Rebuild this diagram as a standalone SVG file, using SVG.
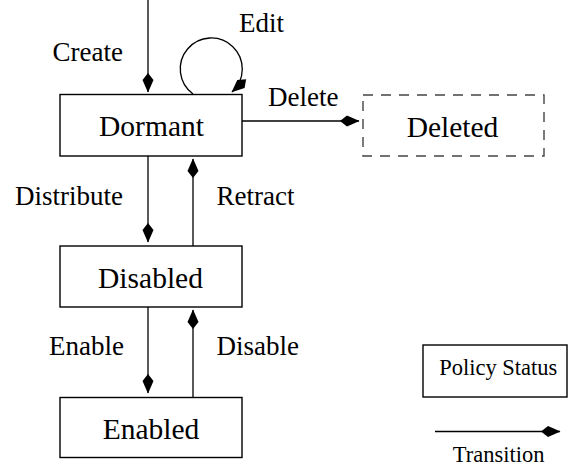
<svg xmlns="http://www.w3.org/2000/svg" width="568" height="465" viewBox="0 0 568 465">
<style>
  .box { fill: #fff; stroke: #000; stroke-width: 1.4; }
  .dashed { fill: #fff; stroke: #444; stroke-width: 1.4; stroke-dasharray: 10 8; }
  .node { font-family: "Liberation Serif", "Times New Roman", serif; font-size: 29.5px; fill: #000; text-anchor: middle; }
  .lbl { font-family: "Liberation Serif", "Times New Roman", serif; font-size: 27px; fill: #000; }
  .leg { font-family: "Liberation Serif", "Times New Roman", serif; font-size: 22.5px; fill: #000; text-anchor: middle; }
  .edge { fill: none; stroke: #000; stroke-width: 1.3; marker-end: url(#arr); }
</style>
<defs>
  <marker id="arr" markerUnits="userSpaceOnUse" markerWidth="22" markerHeight="14" viewBox="-1 -7 22 14" refX="19" refY="0" orient="auto" overflow="visible">
    <path d="M0,0 L7,-5.5 L19.5,0 L7,5.5 Z" fill="#000"/>
  </marker>
</defs>
<rect width="568" height="465" fill="#fff"/>

<g id="connectors">
  <path id="e-create" class="edge" d="M148,0 L148,92"/>
  <path id="e-edit" class="edge" d="M193,94 A31,31 0 1 1 232,92"/>
  <path id="e-delete" class="edge" d="M242,121 L359,121"/>
  <path id="e-distribute" class="edge" d="M148,156 L148,242"/>
  <path id="e-retract" class="edge" d="M193,246 L193,159"/>
  <path id="e-enable" class="edge" d="M148,307 L148,393"/>
  <path id="e-disable" class="edge" d="M193,397 L193,310"/>
  <text class="lbl" x="52.5" y="60.5">Create</text>
  <text class="lbl" x="239" y="31.5">Edit</text>
  <text class="lbl" x="268" y="105.5">Delete</text>
  <text class="lbl" x="15" y="205">Distribute</text>
  <text class="lbl" x="216.5" y="205">Retract</text>
  <text class="lbl" x="49" y="355">Enable</text>
  <text class="lbl" x="216.5" y="355">Disable</text>
</g>

<g id="dormant">
  <rect class="box" x="60" y="94.5" width="182" height="61.5"/>
  <text class="node" x="151.5" y="136">Dormant</text>
</g>
<g id="deleted">
  <rect class="dashed" x="363" y="95" width="181" height="61"/>
  <text class="node" x="452.5" y="136.5">Deleted</text>
</g>
<g id="disabled">
  <rect class="box" x="60" y="246" width="182" height="61"/>
  <text class="node" x="150.5" y="288">Disabled</text>
</g>
<g id="enabled">
  <rect class="box" x="60" y="397.5" width="182" height="60"/>
  <text class="node" x="151" y="438.5">Enabled</text>
</g>

<g id="legend">
  <rect class="box" x="423" y="345" width="144" height="52"/>
  <text class="leg" x="498.3" y="375">Policy Status</text>
  <path class="edge" d="M435,431.5 L560,431.5"/>
  <text class="leg" x="498.7" y="461.5">Transition</text>
</g>
</svg>
